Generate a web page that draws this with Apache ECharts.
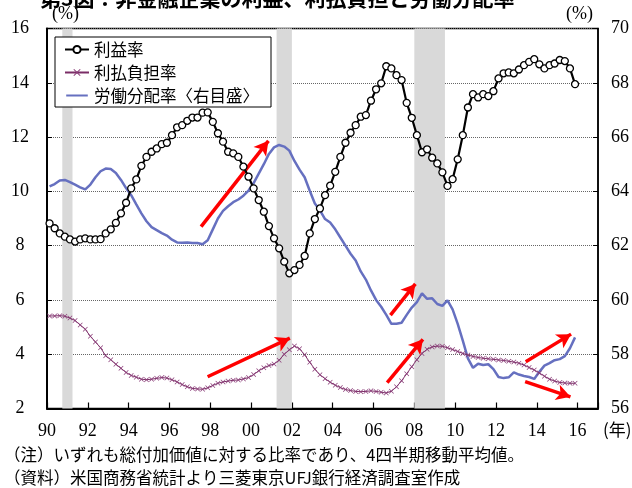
<!DOCTYPE html>
<html>
<head>
<meta charset="utf-8">
<script src="https://cdn.jsdelivr.net/npm/echarts@6/dist/echarts.min.js"></script>
<style>
  html, body { margin: 0; padding: 0; background: #fff; }
  #chart { width: 632px; height: 488px; }
</style>
</head>
<body>
<div id="chart"></div>
<script>
// 四半期データ 1990Q1〜2015Q4（4四半期移動平均、%）
const startYear = 1990
const profitRate = [
  8.82, 8.64, 8.45, 8.33, 8.23, 8.15, 8.23, 8.27, 8.23, 8.23,
  8.24, 8.45, 8.60, 8.84, 9.19, 9.58, 10.11, 10.44, 10.94, 11.27,
  11.46, 11.58, 11.74, 11.79, 12.07, 12.36, 12.44, 12.60, 12.72, 12.72,
  12.90, 12.91, 12.56, 12.14, 11.83, 11.46, 11.40, 11.27, 10.91, 10.54,
  10.11, 9.68, 9.25, 8.72, 8.27, 7.90, 7.41, 6.98, 7.10, 7.29,
  7.62, 8.45, 8.98, 9.37, 9.86, 10.21, 10.72, 11.27, 11.79, 12.16,
  12.44, 12.75, 12.81, 13.34, 13.76, 13.98, 14.61, 14.53, 14.28, 14.10,
  13.26, 12.71, 12.07, 11.44, 11.55, 11.24, 11.03, 10.70, 10.20, 10.45,
  11.18, 12.07, 13.09, 13.58, 13.46, 13.58, 13.51, 13.69, 14.16, 14.35,
  14.38, 14.35, 14.49, 14.65, 14.77, 14.87, 14.68, 14.53, 14.65, 14.71,
  14.84, 14.80, 14.53, 13.95
]
const interestBurden = [
  5.41, 5.41, 5.42, 5.40, 5.33, 5.24, 5.08, 4.92, 4.66, 4.45,
  4.24, 3.94, 3.80, 3.63, 3.48, 3.33, 3.22, 3.15, 3.08, 3.06,
  3.08, 3.11, 3.14, 3.12, 3.06, 2.98, 2.88, 2.80, 2.74, 2.72,
  2.71, 2.76, 2.85, 2.93, 2.98, 3.01, 3.04, 3.05, 3.09, 3.14,
  3.25, 3.39, 3.50, 3.58, 3.64, 3.78, 4.00, 4.16, 4.30, 4.20,
  3.98, 3.70, 3.45, 3.24, 3.10, 2.97, 2.86, 2.77, 2.70, 2.66,
  2.63, 2.62, 2.63, 2.65, 2.63, 2.60, 2.57, 2.64, 2.80, 3.02,
  3.28, 3.54, 3.80, 4.03, 4.18, 4.27, 4.30, 4.29, 4.24, 4.17,
  4.10, 4.03, 3.97, 3.92, 3.88, 3.85, 3.83, 3.81, 3.79, 3.77,
  3.74, 3.71, 3.67, 3.60, 3.51, 3.42, 3.31, 3.19, 3.08, 3.01,
  2.96, 2.94, 2.93, 2.93
]
const laborShare = [
  64.18, 64.27, 64.40, 64.42, 64.34, 64.25, 64.15, 64.07, 64.25, 64.52,
  64.74, 64.84, 64.82, 64.68, 64.42, 64.12, 63.86, 63.52, 63.19, 62.90,
  62.68, 62.57, 62.46, 62.37, 62.22, 62.12, 62.11, 62.12, 62.10, 62.10,
  62.05, 62.20, 62.60, 63.00, 63.28, 63.45, 63.60, 63.70, 63.84, 64.03,
  64.30, 64.65, 65.00, 65.38, 65.62, 65.71, 65.65, 65.50, 65.12, 64.80,
  64.52, 64.02, 63.55, 63.30, 62.98, 62.85, 62.60, 62.30, 62.00, 61.70,
  61.45, 61.05, 60.75, 60.35, 60.00, 59.75, 59.45, 59.12, 59.12, 59.16,
  59.45, 59.72, 59.92, 60.24, 60.04, 60.06, 59.85, 59.78, 59.98, 59.65,
  59.12, 58.50, 57.85, 57.50, 57.65, 57.60, 57.63, 57.45, 57.16, 57.12,
  57.15, 57.33, 57.25, 57.20, 57.16, 57.09, 57.35, 57.58, 57.67, 57.78,
  57.82, 57.93, 58.22, 58.62
]
// 景気後退期（年）
const recessions = [[1990.75, 1991.25], [2001.25, 2002.0], [2008.0, 2009.5]]
// 注釈の矢印 [始点年, 始点値, 終点年, 終点値]（左目盛）
const arrows = [
  [1997.55, 8.70, 2000.85, 11.86],
  [1997.87, 3.17, 2001.9, 4.59],
  [2006.83, 5.44, 2008.05, 6.59],
  [2006.67, 2.95, 2008.42, 4.55],
  [2013.46, 3.72, 2015.68, 4.74],
  [2013.43, 2.99, 2015.65, 2.43]
]
const names = ['利益率', '利払負担率', '労働分配率〈右目盛〉']

const quarterX = i => startYear + (i + 0.5) / 4
const toPairs = arr => arr.map((v, i) => [quarterX(i), v])

const serif = 'Liberation Serif'
const jp = 'Noto Sans CJK JP'
const crossPath = 'path://M0,1L1,0L5,4L9,0L10,1L6,5L10,9L9,10L5,6L1,10L0,9L4,5Z'
// 凡例用の線だけのアイコン（上下に小さな点を置いて高さを確保）
const lineIcon = 'path://M0,0L0.01,0L0.01,0.01ZM0,3.9L24,3.9L24,6.1L0,6.1ZM0,9.99L0.01,9.99L0.01,10Z'

const chart = echarts.init(document.getElementById('chart'))
chart.setOption({
  animation: false,
  grid: {
    left: 47, right: 33, top: 28.5, bottom: 79.5,
    show: true, borderColor: '#000', borderWidth: 1.5, backgroundColor: 'transparent'
  },
  legend: {
    orient: 'vertical',
    left: 55,
    top: 37,
    data: [
      { name: names[0] },
      { name: names[1] },
      { name: names[2], icon: lineIcon }
    ],
    backgroundColor: '#fff',
    borderColor: '#000',
    borderWidth: 1,
    padding: [4, 12, 3, 9],
    itemGap: 6,
    itemWidth: 24,
    itemHeight: 9,
    textStyle: { fontFamily: jp, fontSize: 16.5, color: '#000', lineHeight: 17 }
  },
  xAxis: {
    type: 'value',
    min: 1990,
    max: 2017,
    interval: 2,
    axisLine: { lineStyle: { color: '#000', width: 2 } },
    axisTick: { inside: true, length: 6, lineStyle: { color: '#000', width: 1.2 } },
    splitLine: { show: false },
    axisLabel: {
      margin: 14,
      fontFamily: serif,
      fontSize: 18,
      color: '#000',
      formatter: v => (v % 2 === 0 ? String(v).slice(2) : '')
    }
  },
  yAxis: [
    {
      type: 'value',
      min: 2, max: 16, interval: 2,
      axisLine: { show: true, lineStyle: { color: '#000', width: 2 } },
      axisTick: { show: true, inside: true, length: 5, lineStyle: { color: '#000' } },
      splitLine: { show: true, lineStyle: { color: '#666', type: 'dotted', width: 1 } },
      axisLabel: { margin: 27, align: 'center', fontFamily: serif, fontSize: 18, color: '#000' }
    },
    {
      type: 'value',
      min: 56, max: 70, interval: 2,
      axisLine: { show: true, lineStyle: { color: '#000', width: 1.5 } },
      axisTick: { show: true, inside: true, length: 5, lineStyle: { color: '#000' } },
      splitLine: { show: false },
      axisLabel: { margin: 13, align: 'left', fontFamily: serif, fontSize: 18, color: '#000' }
    }
  ],
  series: [
    {
      name: 'recession',
      type: 'line',
      data: [],
      z: 1,
      silent: true,
      markArea: {
        silent: true,
        itemStyle: { color: '#d9d9d9' },
        data: recessions.map(r => [{ xAxis: r[0] }, { xAxis: r[1] }])
      }
    },
    {
      name: names[2],
      type: 'line',
      yAxisIndex: 1,
      data: toPairs(laborShare),
      showSymbol: false,
      symbol: 'none',
      z: 3,
      lineStyle: { color: '#6670c0', width: 2.5 },
      itemStyle: { color: '#6670c0' }
    },
    {
      name: names[1],
      type: 'line',
      data: toPairs(interestBurden),
      symbol: crossPath,
      symbolSize: 5,
      z: 4,
      lineStyle: { color: '#7a2d66', width: 1 },
      itemStyle: { color: '#8a3c78' }
    },
    {
      name: names[0],
      type: 'line',
      data: toPairs(profitRate),
      symbol: 'circle',
      symbolSize: 7,
      z: 5,
      lineStyle: { color: '#000', width: 2.2 },
      itemStyle: { color: '#fff', borderColor: '#000', borderWidth: 1.3 },
      markLine: {
        silent: true,
        symbol: ['none', 'arrow'],
        symbolSize: [12, 14],
        label: { show: false },
        lineStyle: { color: '#ff0000', width: 3.5, type: 'solid' },
        data: arrows.map(a => [{ coord: [a[0], a[1]] }, { coord: [a[2], a[3]] }])
      }
    }
  ],
  graphic: [
    {
      type: 'text', left: 40, top: -12,
      style: { text: '第3図：非金融企業の利益、利払負担と労働分配率', fontFamily: jp, fontSize: 21, fontWeight: 'bold', fill: '#000' }
    },
    { type: 'text', left: 52, top: 5, style: { text: '(%)', fontFamily: serif, fontSize: 18, fill: '#000' } },
    { type: 'text', left: 566, top: 5, style: { text: '(%)', fontFamily: serif, fontSize: 18, fill: '#000' } },
    { type: 'text', left: 603, top: 421, style: { text: '(年)', fontFamily: jp, fontSize: 17, fill: '#000' } },
    {
      type: 'text', left: 4, top: 446,
      style: { text: '（注）いずれも総付加価値に対する比率であり、4四半期移動平均値。', fontFamily: jp, fontSize: 16.5, fill: '#000' }
    },
    {
      type: 'text', left: 4, top: 469,
      style: { text: '（資料）米国商務省統計より三菱東京UFJ銀行経済調査室作成', fontFamily: jp, fontSize: 16.5, fill: '#000' }
    }
  ]
})
</script>
</body>
</html>
